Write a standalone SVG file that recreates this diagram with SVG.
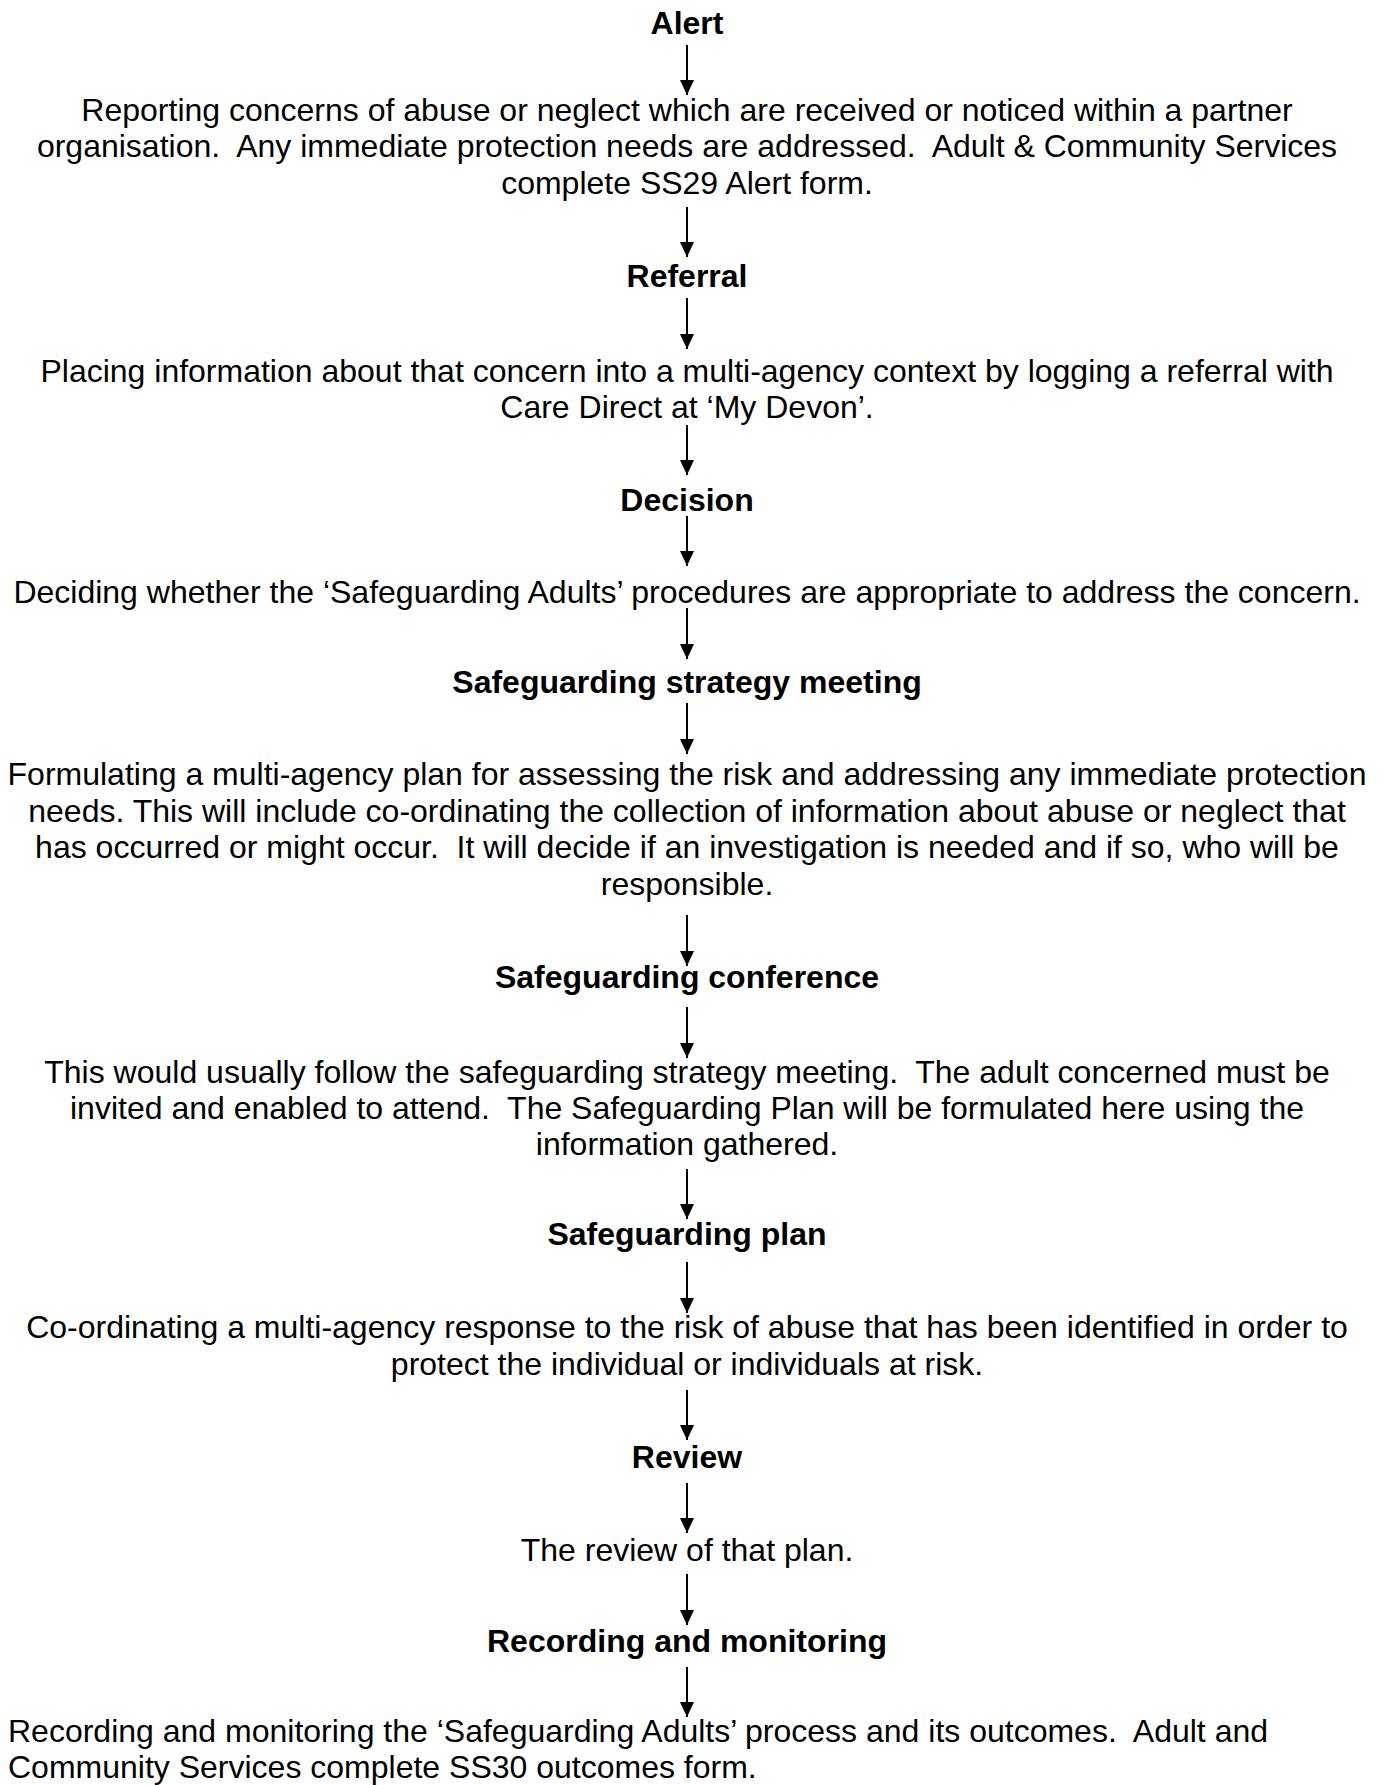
<svg xmlns="http://www.w3.org/2000/svg" width="1383" height="1785" viewBox="0 0 1383 1785">
<style>
text{font-family:"Liberation Sans",Arial,sans-serif;font-size:32px;fill:#000;white-space:pre}
.h{font-weight:bold;text-anchor:middle}
.b{text-anchor:middle}
.l{text-anchor:start}
.c line{stroke:#000;stroke-width:2}
</style>
<defs>
<marker id="ah" markerUnits="userSpaceOnUse" markerWidth="16" markerHeight="16" refX="15" refY="7" orient="auto" viewBox="0 0 16 14">
<path d="M0,0 L15,7 L0,14 z" fill="#000"/>
</marker>
</defs>
<rect width="1383" height="1785" fill="#fff"/>
<g id="n-alert"><text class="h" x="687" y="34">Alert</text></g>
<g id="n-alert-desc"><text class="b" x="687" y="121">Reporting concerns of abuse or neglect which are received or noticed within a partner</text><text class="b" x="687" y="157">organisation.  Any immediate protection needs are addressed.  Adult &amp; Community Services</text><text class="b" x="687" y="193.5">complete SS29 Alert form.</text></g>
<g id="n-referral"><text class="h" x="687" y="287">Referral</text></g>
<g id="n-referral-desc"><text class="b" x="687" y="382">Placing information about that concern into a multi-agency context by logging a referral with</text><text class="b" x="687" y="418">Care Direct at ‘My Devon’.</text></g>
<g id="n-decision"><text class="h" x="687" y="511">Decision</text></g>
<g id="n-decision-desc"><text class="b" x="687" y="603">Deciding whether the ‘Safeguarding Adults’ procedures are appropriate to address the concern.</text></g>
<g id="n-strategy"><text class="h" x="687" y="693">Safeguarding strategy meeting</text></g>
<g id="n-strategy-desc"><text class="b" x="687" y="785">Formulating a multi-agency plan for assessing the risk and addressing any immediate protection</text><text class="b" x="687" y="822">needs. This will include co-ordinating the collection of information about abuse or neglect that</text><text class="b" x="687" y="858">has occurred or might occur.  It will decide if an investigation is needed and if so, who will be</text><text class="b" x="687" y="895">responsible.</text></g>
<g id="n-conference"><text class="h" x="687" y="988">Safeguarding conference</text></g>
<g id="n-conference-desc"><text class="b" x="687" y="1083">This would usually follow the safeguarding strategy meeting.  The adult concerned must be</text><text class="b" x="687" y="1119">invited and enabled to attend.  The Safeguarding Plan will be formulated here using the</text><text class="b" x="687" y="1155">information gathered.</text></g>
<g id="n-plan"><text class="h" x="687" y="1245">Safeguarding plan</text></g>
<g id="n-plan-desc"><text class="b" x="687" y="1338">Co-ordinating a multi-agency response to the risk of abuse that has been identified in order to</text><text class="b" x="687" y="1375">protect the individual or individuals at risk.</text></g>
<g id="n-review"><text class="h" x="687" y="1468">Review</text></g>
<g id="n-review-desc"><text class="b" x="687" y="1561">The review of that plan.</text></g>
<g id="n-recording"><text class="h" x="687" y="1652">Recording and monitoring</text></g>
<g id="n-recording-desc"><text class="l" x="8" y="1742">Recording and monitoring the ‘Safeguarding Adults’ process and its outcomes.  Adult and</text><text class="l" x="8" y="1778">Community Services complete SS30 outcomes form.</text></g>
<g id="connectors" class="c">
<line x1="687" y1="45" x2="687" y2="95" marker-end="url(#ah)"/>
<line x1="687" y1="207" x2="687" y2="257" marker-end="url(#ah)"/>
<line x1="687" y1="298" x2="687" y2="349" marker-end="url(#ah)"/>
<line x1="687" y1="425" x2="687" y2="475" marker-end="url(#ah)"/>
<line x1="687" y1="516" x2="687" y2="566" marker-end="url(#ah)"/>
<line x1="687" y1="608" x2="687" y2="659" marker-end="url(#ah)"/>
<line x1="687" y1="703" x2="687" y2="754" marker-end="url(#ah)"/>
<line x1="687" y1="915" x2="687" y2="966" marker-end="url(#ah)"/>
<line x1="687" y1="1007" x2="687" y2="1058" marker-end="url(#ah)"/>
<line x1="687" y1="1169" x2="687" y2="1219" marker-end="url(#ah)"/>
<line x1="687" y1="1262" x2="687" y2="1313" marker-end="url(#ah)"/>
<line x1="687" y1="1390" x2="687" y2="1440" marker-end="url(#ah)"/>
<line x1="687" y1="1483" x2="687" y2="1533" marker-end="url(#ah)"/>
<line x1="687" y1="1574" x2="687" y2="1625" marker-end="url(#ah)"/>
<line x1="687" y1="1667" x2="687" y2="1717" marker-end="url(#ah)"/>
</g>
</svg>
